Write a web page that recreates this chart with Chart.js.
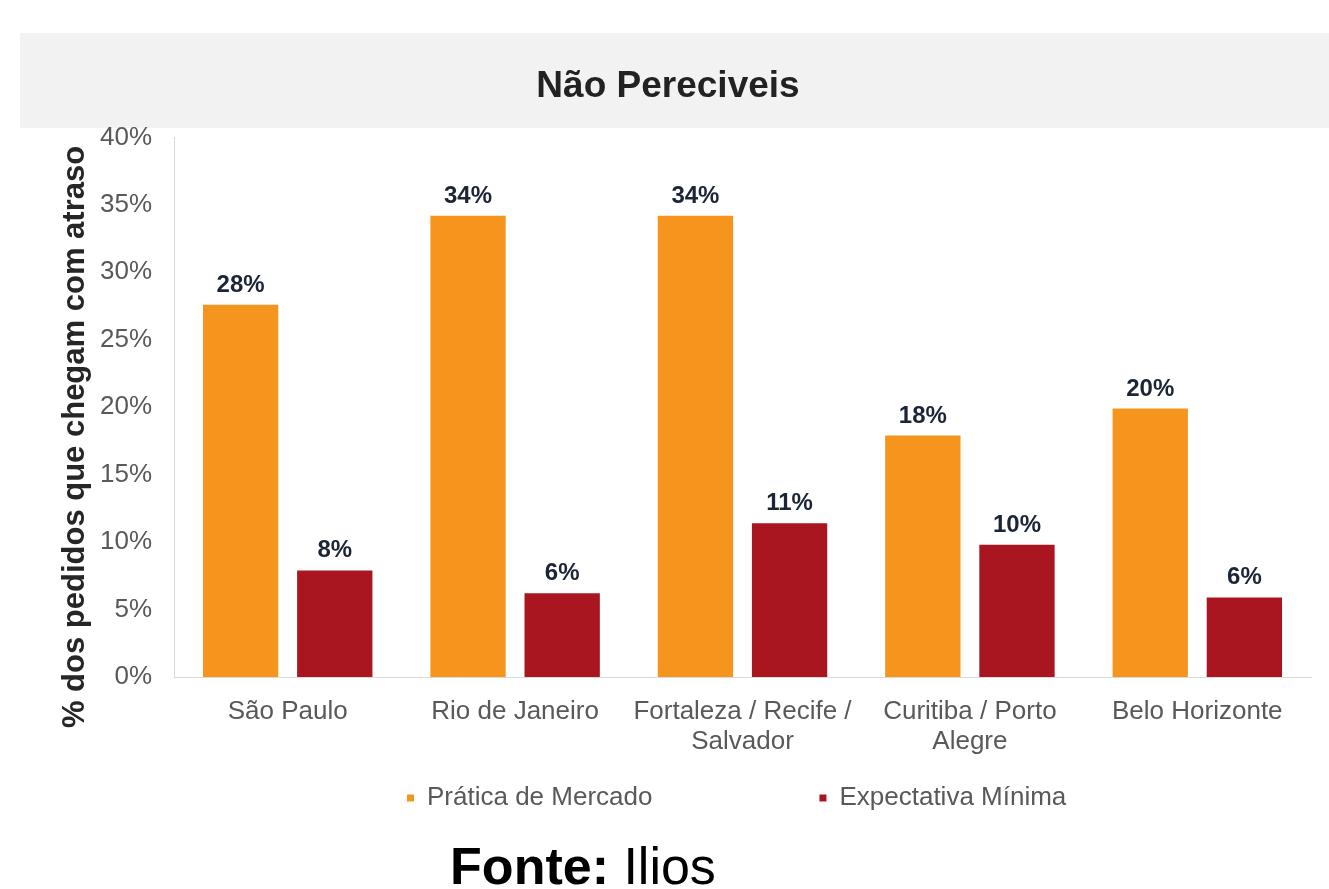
<!DOCTYPE html>
<html>
<head>
<meta charset="utf-8">
<script src="https://cdn.jsdelivr.net/npm/chart.js@4"></script>
<style>
  html, body { margin: 0; padding: 0; background: #ffffff; width: 1329px; height: 889px; overflow: hidden; }
  #band { position: absolute; left: 20px; top: 33px; width: 1309px; height: 95px; background: #f2f2f2; }
  #wrap { position: absolute; left: 0; top: 0; width: 1329px; height: 830px; }
  #fonte { position: absolute; left: 0; top: 840px; width: 1166px; text-align: center;
           font-family: "Liberation Sans", Arial, sans-serif; font-size: 52px; line-height: 52px; color: #000; }
</style>
</head>
<body>
<div id="band"></div>
<div id="wrap"><canvas id="c" width="1329" height="830"></canvas></div>
<div id="fonte"><b>Fonte:</b> Ilios</div>
<script>
// ---- data ----
const chartTitle = 'Não Pereciveis';
const yAxisTitle = '% dos pedidos que chegam com atraso';
const categories = ['São Paulo', 'Rio de Janeiro', ['Fortaleza / Recife /', 'Salvador'], ['Curitiba / Porto', 'Alegre'], 'Belo Horizonte'];
const seriesNames = ['Prática de Mercado', 'Expectativa Mínima'];
const praticaMercado = [27.6, 34.2, 34.2, 17.9, 19.9];
const expectativaMinima = [7.9, 6.2, 11.4, 9.8, 5.9];
const yTicks = [0, 5, 10, 15, 20, 25, 30, 35, 40];

const FONT = '"Liberation Sans", Arial, sans-serif';
Chart.defaults.font.family = FONT;

const valueLabels = {
  id: 'valueLabels',
  afterDatasetsDraw(chart) {
    const ctx = chart.ctx;
    ctx.save();
    ctx.font = 'bold 24px ' + FONT;
    ctx.fillStyle = '#1c2536';
    ctx.textAlign = 'center';
    ctx.textBaseline = 'alphabetic';
    chart.data.datasets.forEach((ds, di) => {
      const meta = chart.getDatasetMeta(di);
      meta.data.forEach((bar, i) => {
        ctx.fillText(Math.round(ds.data[i]) + '%', bar.x, bar.y - 13);
      });
    });
    ctx.restore();
  }
};

const yTitlePlugin = {
  id: 'yTitlePlugin',
  afterDraw(chart) {
    const ctx = chart.ctx;
    ctx.save();
    ctx.translate(75, 437);
    ctx.rotate(-Math.PI / 2);
    ctx.font = 'bold 31px ' + FONT;
    ctx.fillStyle = '#262626';
    ctx.textAlign = 'center';
    ctx.textBaseline = 'middle';
    ctx.fillText(yAxisTitle, 0, 0);
    ctx.restore();
  }
};

const placeBoxes = {
  id: 'placeBoxes',
  beforeDraw(chart) {
    const lg = chart.legend;
    if (lg) {
      const pad = lg.options.labels.padding;
      const fs = lg.options.labels.font.size;
      lg.left = 407 - pad;
      lg.right = lg.left + 3000;
      lg.top = 798 - pad - fs / 2;
      lg.bottom = lg.top + 400;
    }
    const tb = chart.titleBlock;
    if (tb) {
      const w = tb.right - tb.left;
      tb.left = 668 - w / 2;
      tb.right = 668 + w / 2;
    }
  }
};

new Chart(document.getElementById('c'), {
  type: 'bar',
  data: {
    labels: categories,
    datasets: [
      { label: seriesNames[0], data: praticaMercado, backgroundColor: '#f5951d', borderWidth: 0,
        categoryPercentage: 0.828, barPercentage: 0.80 },
      { label: seriesNames[1], data: expectativaMinima, backgroundColor: '#a9161f', borderWidth: 0,
        categoryPercentage: 0.828, barPercentage: 0.80 }
    ]
  },
  options: {
    responsive: false,
    animation: false,
    devicePixelRatio: 1,
    layout: { padding: { left: 0, right: 18, top: 0, bottom: 0 } },
    plugins: {
      title: {
        display: true, text: chartTitle, color: '#222222',
        font: { size: 37, weight: 'bold', family: FONT },
        padding: { top: 65, bottom: 28 }
      },
      legend: {
        position: 'bottom', align: 'start', maxHeight: 63,
        labels: { boxWidth: 7, boxHeight: 7, padding: 167, color: '#595959',
                  font: { size: 26, family: FONT } }
      },
      tooltip: { enabled: false }
    },
    scales: {
      x: {
        grid: { display: false, drawTicks: false },
        border: { display: true, color: '#d9d9d9', width: 1 },
        ticks: { color: '#595959', padding: 20, maxRotation: 0, autoSkip: false,
                 font: { size: 26, lineHeight: 1.15, family: FONT } },
        afterFit(scale) { scale.height = 90; }
      },
      y: {
        min: 0, max: 40,
        afterBuildTicks(scale) { scale.ticks = yTicks.map(v => ({ value: v })); },
        grid: { display: false, drawTicks: false },
        border: { display: true, color: '#d9d9d9', width: 1 },
        ticks: { color: '#595959', padding: 22, font: { size: 26, family: FONT },
                 callback: v => v + '%' },
        afterFit(scale) { scale.width = 174; }
      }
    }
  },
  plugins: [valueLabels, yTitlePlugin, placeBoxes]
});
</script>
</body>
</html>
